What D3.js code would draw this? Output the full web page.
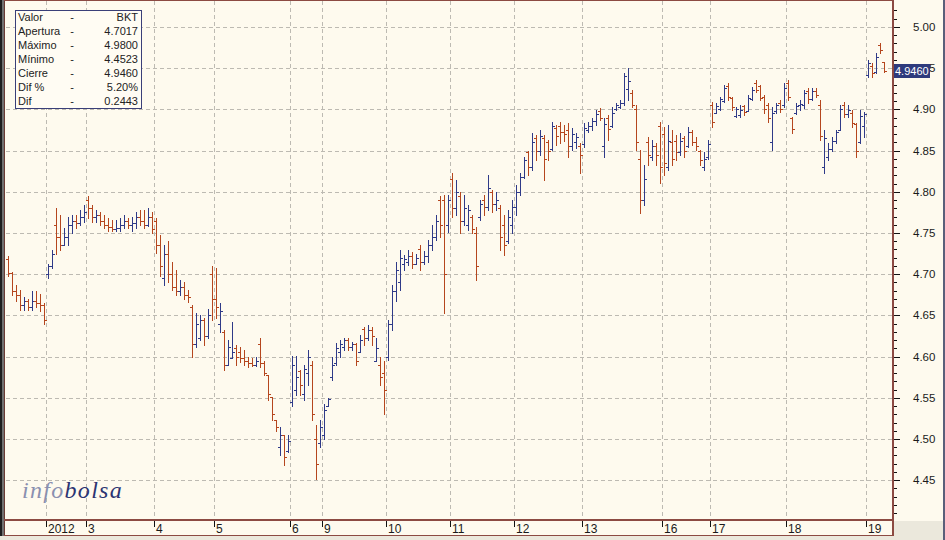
<!DOCTYPE html>
<html><head><meta charset="utf-8">
<script src="https://cdn.jsdelivr.net/npm/d3@7/dist/d3.min.js"></script>
<style>html,body{margin:0;padding:0;background:#fefaee;}svg{display:block;}</style>
</head><body>
<script>
// ---- DATA (intraday OHLC bars, BKT) ----
const opens = [4.718,4.702,4.680,4.675,4.662,4.668,4.660,4.668,4.665,4.662,
4.700,4.710,4.760,4.745,4.735,4.745,4.760,4.764,4.762,4.770,
4.790,4.780,4.770,4.772,4.765,4.760,4.757,4.755,4.756,4.760,
4.765,4.760,4.762,4.770,4.765,4.760,4.770,4.765,4.735,4.695,
4.725,4.700,4.685,4.680,4.685,4.675,4.660,4.615,4.622,4.645,
4.625,4.700,4.670,4.640,4.630,4.590,4.598,4.610,4.605,4.598,
4.595,4.592,4.590,4.615,4.592,4.578,4.551,4.523,4.490,4.505,
4.485,4.545,4.560,4.582,4.555,4.580,4.590,4.500,4.495,4.505,
4.540,4.575,4.592,4.605,4.612,4.620,4.612,4.615,4.605,4.634,
4.622,4.632,4.595,4.590,4.580,4.600,4.640,4.680,4.690,4.712,
4.715,4.722,4.712,4.730,4.715,4.722,4.735,4.745,4.790,4.790,
4.760,4.815,4.780,4.795,4.765,4.760,4.770,4.750,4.770,4.790,
4.782,4.800,4.785,4.780,4.760,4.740,4.760,4.782,4.800,4.818,
4.848,4.830,4.865,4.850,4.865,4.860,4.852,4.878,4.880,4.872,
4.875,4.855,4.860,4.855,4.858,4.875,4.880,4.886,4.898,4.855,
4.890,4.880,4.900,4.903,4.908,4.925,4.920,4.900,4.840,4.790,
4.860,4.842,4.856,4.880,4.870,4.830,4.860,4.862,4.848,4.865,
4.855,4.872,4.860,4.850,4.830,4.842,4.905,4.896,4.900,4.910,
4.928,4.914,4.892,4.893,4.904,4.898,4.912,4.932,4.928,4.915,
4.905,4.860,4.898,4.908,4.905,4.932,4.889,4.895,4.905,4.905,
4.922,4.912,4.922,4.905,4.830,4.842,4.852,4.862,4.875,4.905,
4.894,4.896,4.882,4.860,4.880,4.942,4.953,4.945,4.978,4.957];
const highs = [4.722,4.703,4.687,4.681,4.672,4.670,4.680,4.680,4.676,4.665,
4.712,4.729,4.780,4.772,4.756,4.769,4.772,4.772,4.778,4.784,
4.795,4.784,4.778,4.775,4.772,4.768,4.766,4.766,4.768,4.772,
4.768,4.770,4.775,4.778,4.778,4.780,4.775,4.768,4.748,4.735,
4.740,4.715,4.705,4.693,4.690,4.681,4.662,4.653,4.650,4.647,
4.658,4.710,4.708,4.665,4.632,4.620,4.642,4.614,4.612,4.608,
4.600,4.598,4.600,4.622,4.595,4.578,4.551,4.523,4.515,4.505,
4.505,4.601,4.601,4.584,4.590,4.608,4.595,4.517,4.523,4.543,
4.550,4.600,4.617,4.620,4.623,4.622,4.618,4.617,4.626,4.636,
4.638,4.636,4.623,4.600,4.595,4.645,4.687,4.715,4.729,4.723,
4.729,4.727,4.725,4.735,4.728,4.741,4.760,4.772,4.795,4.796,
4.796,4.823,4.814,4.800,4.796,4.784,4.772,4.757,4.790,4.796,
4.820,4.802,4.800,4.784,4.772,4.778,4.790,4.808,4.823,4.842,
4.850,4.871,4.869,4.875,4.869,4.863,4.885,4.881,4.885,4.881,
4.883,4.877,4.871,4.859,4.883,4.885,4.890,4.899,4.902,4.890,
4.893,4.903,4.908,4.911,4.944,4.950,4.924,4.905,4.851,4.833,
4.867,4.863,4.859,4.885,4.879,4.881,4.875,4.869,4.871,4.868,
4.879,4.875,4.866,4.851,4.848,4.863,4.909,4.908,4.915,4.930,
4.932,4.915,4.903,4.905,4.905,4.917,4.927,4.936,4.930,4.917,
4.908,4.903,4.908,4.911,4.932,4.936,4.891,4.908,4.911,4.924,
4.926,4.926,4.926,4.911,4.875,4.859,4.866,4.875,4.905,4.909,
4.905,4.899,4.883,4.899,4.897,4.960,4.956,4.968,4.980,4.957];
const lows = [4.698,4.675,4.668,4.657,4.657,4.657,4.657,4.660,4.655,4.640,
4.695,4.707,4.725,4.729,4.735,4.735,4.750,4.756,4.760,4.763,
4.768,4.763,4.763,4.760,4.756,4.753,4.753,4.753,4.753,4.756,
4.756,4.753,4.756,4.760,4.756,4.758,4.750,4.726,4.698,4.687,
4.690,4.681,4.675,4.675,4.670,4.666,4.600,4.612,4.620,4.614,
4.622,4.645,4.647,4.630,4.584,4.590,4.598,4.590,4.594,4.590,
4.587,4.588,4.588,4.587,4.578,4.547,4.523,4.510,4.480,4.468,
4.484,4.540,4.553,4.553,4.547,4.565,4.523,4.452,4.490,4.500,
4.540,4.572,4.590,4.600,4.608,4.608,4.608,4.590,4.605,4.614,
4.620,4.614,4.595,4.565,4.530,4.596,4.632,4.668,4.681,4.705,
4.711,4.707,4.712,4.705,4.712,4.715,4.729,4.741,4.745,4.653,
4.751,4.769,4.772,4.750,4.760,4.754,4.750,4.693,4.766,4.772,
4.778,4.775,4.778,4.729,4.723,4.738,4.750,4.772,4.796,4.817,
4.820,4.826,4.839,4.845,4.814,4.839,4.851,4.857,4.859,4.862,
4.842,4.851,4.853,4.823,4.854,4.873,4.875,4.881,4.887,4.842,
4.863,4.879,4.899,4.902,4.905,4.911,4.903,4.851,4.774,4.784,
4.833,4.839,4.833,4.811,4.820,4.826,4.833,4.839,4.845,4.842,
4.854,4.857,4.851,4.833,4.826,4.840,4.879,4.896,4.899,4.909,
4.911,4.899,4.891,4.891,4.893,4.898,4.911,4.921,4.911,4.896,
4.885,4.851,4.896,4.897,4.903,4.911,4.871,4.894,4.899,4.902,
4.908,4.911,4.915,4.863,4.823,4.839,4.850,4.859,4.875,4.891,
4.891,4.879,4.842,4.859,4.866,4.939,4.939,4.944,4.968,4.945];
const closes = [4.702,4.680,4.675,4.662,4.668,4.660,4.668,4.665,4.662,4.645,
4.710,4.725,4.745,4.735,4.745,4.760,4.764,4.762,4.770,4.775,
4.780,4.770,4.772,4.765,4.760,4.757,4.755,4.756,4.760,4.765,
4.760,4.762,4.770,4.765,4.760,4.770,4.755,4.735,4.710,4.725,
4.700,4.685,4.680,4.685,4.675,4.672,4.615,4.640,4.645,4.625,
4.650,4.670,4.660,4.655,4.590,4.612,4.605,4.600,4.598,4.595,
4.592,4.590,4.595,4.592,4.580,4.555,4.530,4.515,4.505,4.478,
4.498,4.590,4.575,4.565,4.585,4.600,4.530,4.470,4.515,4.535,
4.548,4.590,4.610,4.615,4.620,4.612,4.615,4.595,4.620,4.622,
4.632,4.625,4.610,4.575,4.560,4.640,4.680,4.705,4.720,4.718,
4.722,4.712,4.720,4.715,4.722,4.735,4.745,4.765,4.760,4.700,
4.790,4.780,4.800,4.765,4.780,4.778,4.755,4.710,4.785,4.782,
4.805,4.785,4.790,4.745,4.735,4.770,4.782,4.800,4.818,4.838,
4.830,4.860,4.850,4.868,4.840,4.850,4.880,4.868,4.872,4.870,
4.855,4.870,4.866,4.845,4.878,4.880,4.886,4.894,4.890,4.882,
4.876,4.896,4.905,4.908,4.940,4.935,4.905,4.860,4.790,4.815,
4.845,4.856,4.845,4.830,4.835,4.862,4.840,4.848,4.862,4.850,
4.872,4.860,4.855,4.838,4.840,4.858,4.885,4.904,4.912,4.926,
4.915,4.903,4.900,4.899,4.897,4.914,4.923,4.924,4.914,4.900,
4.890,4.895,4.905,4.900,4.926,4.915,4.876,4.904,4.907,4.920,
4.912,4.922,4.918,4.868,4.865,4.852,4.862,4.872,4.900,4.894,
4.899,4.884,4.850,4.892,4.894,4.956,4.944,4.964,4.972,4.946];

const dayLabels = ["2012","3","4","5","6","9","10","11","12","13","16","17","18","19"];
const dayStarts = [10,20,37,52,71,79,95,111,127,144,164,176,195,215];
const yMajorTicks = [4.45,4.50,4.55,4.60,4.65,4.70,4.75,4.80,4.85,4.90,4.95,5.00];
const legendLabels = ["Valor","Apertura","Máximo","Mínimo","Cierre","Dif %","Dif"];
const legendValues = ["BKT","4.7017","4.9800","4.4523","4.9460","5.20%","0.2443"];
const lastValue = 4.9460;

// ---- LAYOUT ----
const W = 945, H = 540;
const plotL = 6, plotR = 892, plotT = 1, plotB = 520;
const N = closes.length;
const FONT = "'Liberation Sans', Arial, sans-serif";
const C_UP = "#2f3a88", C_DN = "#b5461e", BROWN = "#8c4a42";

const svg = d3.select("body").append("svg").attr("width", W).attr("height", H);
svg.append("rect").attr("width", W).attr("height", H).attr("fill", "#fefaee");

const x = d3.scaleLinear().domain([0, 220]).range([6, 886]);
const y = d3.scaleLinear().domain([4.4017, 5.0303]).range([520, 2]);

// grid
const grid = svg.append("g").attr("stroke", "#bdbab2").attr("stroke-dasharray", "4,3").attr("stroke-width", 1);
grid.selectAll("line.h").data(yMajorTicks).join("line")
  .attr("x1", plotL).attr("x2", plotR)
  .attr("y1", d => Math.round(y(d)) + 0.5).attr("y2", d => Math.round(y(d)) + 0.5);
grid.selectAll("line.v").data(dayStarts).join("line")
  .attr("x1", d => Math.round(x(d)) + 0.5).attr("x2", d => Math.round(x(d)) + 0.5)
  .attr("y1", plotT).attr("y2", plotB);

// logo
const logo = svg.append("text").attr("x", 22).attr("y", 498)
  .attr("font-family", "'Liberation Serif', 'Times New Roman', serif").attr("font-style", "italic")
  .attr("font-size", 24).attr("letter-spacing", 1.3);
logo.append("tspan").attr("fill", "#8a90b0").text("info");
logo.append("tspan").attr("fill", "#2b3472").text("bolsa");

// OHLC bars
const bars = svg.append("g").selectAll("g").data(d3.range(N)).join("g")
  .attr("stroke", i => closes[i] >= opens[i] ? C_UP : C_DN).attr("stroke-width", 1);
const cx = i => Math.round(x(i + 0.5)) + 0.5;
bars.append("line").attr("x1", cx).attr("x2", cx)
  .attr("y1", i => Math.round(y(highs[i]))).attr("y2", i => Math.round(y(lows[i])) + 1);
bars.append("line").attr("x1", i => cx(i) - 2.5).attr("x2", i => cx(i))
  .attr("y1", i => Math.round(y(opens[i])) + 0.5).attr("y2", i => Math.round(y(opens[i])) + 0.5);
bars.append("line").attr("x1", i => cx(i)).attr("x2", i => cx(i) + 2.5)
  .attr("y1", i => Math.round(y(closes[i])) + 0.5).attr("y2", i => Math.round(y(closes[i])) + 0.5);

// frame
svg.append("rect").attr("x", 0).attr("y", 0).attr("width", 2).attr("height", H).attr("fill", "#1e1e1e");
svg.append("rect").attr("x", 2).attr("y", 0).attr("width", 2).attr("height", H).attr("fill", "#707070");
svg.append("line").attr("x1", 4.5).attr("x2", 4.5).attr("y1", 0).attr("y2", 536).attr("stroke", "#6a3a33");
svg.append("line").attr("x1", 4).attr("x2", plotR).attr("y1", 0.5).attr("y2", 0.5).attr("stroke", BROWN);
svg.append("rect").attr("x", 4).attr("y", 519).attr("width", plotR - 4 + 2).attr("height", 2).attr("fill", BROWN);
svg.append("rect").attr("x", plotR).attr("y", 0).attr("width", 2).attr("height", 536).attr("fill", BROWN);
// bottom strip
svg.append("rect").attr("x", 0).attr("y", 536).attr("width", W).attr("height", 4).attr("fill", "#ebe8dc");
svg.append("rect").attr("x", plotR + 2).attr("y", 521).attr("width", W - plotR - 2).attr("height", 19).attr("fill", "#ebe8dc");
svg.append("line").attr("x1", 4).attr("x2", plotR + 1).attr("y1", 535.5).attr("y2", 535.5).attr("stroke", BROWN);
svg.append("rect").attr("x", 943).attr("y", 0).attr("width", 2).attr("height", H).attr("fill", "#5a5f7a");

// x axis
const xa = svg.append("g");
xa.selectAll("line").data(dayStarts).join("line")
  .attr("x1", d => Math.round(x(d)) + 0.5).attr("x2", d => Math.round(x(d)) + 0.5)
  .attr("y1", 521).attr("y2", 527).attr("stroke", "#111");
xa.selectAll("text").data(dayStarts).join("text")
  .attr("x", d => Math.round(x(d)) + 2).attr("y", 533)
  .attr("font-family", FONT).attr("font-size", 12).attr("fill", "#1a1a1a")
  .text((d, k) => dayLabels[k]);

// y axis (right)
const minor = d3.range(441, 503).map(v => v / 100);
const ya = svg.append("g");
ya.selectAll("line.mi").data(minor).join("line")
  .attr("x1", plotR + 2).attr("x2", plotR + 5)
  .attr("y1", d => Math.round(y(d)) + 0.5).attr("y2", d => Math.round(y(d)) + 0.5).attr("stroke", "#111");
ya.selectAll("line.ma").data(yMajorTicks).join("line")
  .attr("x1", plotR + 2).attr("x2", plotR + 8)
  .attr("y1", d => Math.round(y(d)) + 0.5).attr("y2", d => Math.round(y(d)) + 0.5).attr("stroke", "#111");
ya.selectAll("text").data(yMajorTicks).join("text")
  .attr("x", 913).attr("y", d => y(d) + 4)
  .attr("font-family", FONT).attr("font-size", 11.5).attr("fill", "#1a1a1a")
  .text(d => d.toFixed(2));

// last value box (covers most of the 4.95 label, as in the original)
const ly = Math.round(y(lastValue));
svg.append("rect").attr("x", 894).attr("y", ly - 7).attr("width", 36).attr("height", 14).attr("fill", "#2e3a7c");
svg.append("text").attr("x", 895).attr("y", ly + 4).attr("font-family", FONT).attr("font-size", 11)
  .attr("fill", "#ffffff").text(lastValue.toFixed(4));

// legend
const lg = svg.append("g");
lg.append("rect").attr("x", 15.5).attr("y", 10.5).attr("width", 126).attr("height", 98)
  .attr("fill", "#fffcf3").attr("stroke", "#3a3f78");
legendLabels.forEach((lab, k) => {
  const by = 21 + 14 * k;
  lg.append("text").attr("x", 18).attr("y", by).attr("font-family", FONT).attr("font-size", 11).attr("fill", "#222").text(lab);
  lg.append("text").attr("x", 72).attr("y", by).attr("text-anchor", "middle").attr("font-family", FONT).attr("font-size", 11).attr("fill", "#222").text("-");
  lg.append("text").attr("x", 138).attr("y", by).attr("text-anchor", "end").attr("font-family", FONT).attr("font-size", 11).attr("fill", "#222").text(legendValues[k]);
});
</script>
</body></html>
